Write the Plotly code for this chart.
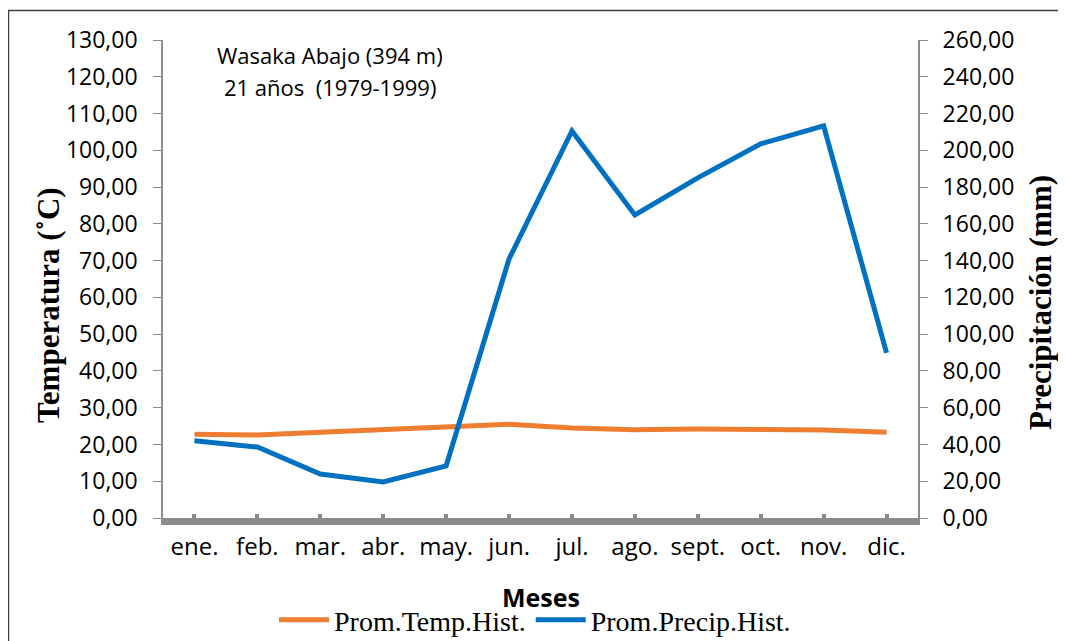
import plotly.graph_objects as go

months = ["ene.", "feb.", "mar.", "abr.", "may.", "jun.", "jul.", "ago.", "sept.", "oct.", "nov.", "dic."]
temp = [22.8, 22.6, 23.3, 24.0, 24.7, 25.5, 24.5, 24.0, 24.2, 24.2, 23.9, 23.3]
precip = [42.0, 38.6, 23.9, 19.6, 28.3, 140.9, 210.5, 164.8, 185.0, 203.5, 213.3, 89.8]

GRAY = "#8c8c8c"
OFF = 8  # page body margin

W, H = 1066, 641
L, T = 163 - OFF, 40 - OFF
RIGHT, BOTTOM = 918 - OFF, 518 - OFF
R, B = W - RIGHT, H - BOTTOM
pw, ph = RIGHT - L, BOTTOM - T


def px_x(x):
    return (x - OFF - L) / pw


def px_y(y):
    return (BOTTOM - (y - OFF)) / ph


fig = go.Figure()
fig.add_trace(go.Scatter(x=months, y=temp, name="Prom.Temp.Hist.", mode="lines",
                         line=dict(color="#ED7D31", width=5), yaxis="y"))
fig.add_trace(go.Scatter(x=months, y=precip, name="Prom.Precip.Hist.", mode="lines",
                         line=dict(color="#0070C0", width=5), yaxis="y2"))

fig.update_layout(
    width=W, height=H,
    margin=dict(l=L, r=R, t=T, b=B, pad=0, autoexpand=False),
    paper_bgcolor="white", plot_bgcolor="white",
    separators=",.",
    showlegend=True,
    font=dict(family="Open Sans", size=22, color="black"),
    xaxis=dict(
        type="category", range=[-0.5, 11.5], showgrid=False,
        showline=True, linecolor=GRAY, linewidth=7,
        ticks="inside", ticklen=4, tickwidth=4, tickcolor=GRAY,
        tickfont=dict(family="Open Sans", size=24),
        ticklabelstandoff=1,
    ),
    yaxis=dict(
        range=[0, 130], dtick=10, tickformat=".2f", showgrid=False,
        showline=True, linecolor=GRAY, linewidth=1.5,
        ticks="outside", ticklen=8, tickcolor=GRAY, tickwidth=1,
        tickfont=dict(family="Open Sans", size=23),
        ticklabelstandoff=11, zeroline=False,
    ),
    yaxis2=dict(
        range=[0, 260], dtick=20, tickformat=".2f", showgrid=False,
        overlaying="y", side="right",
        showline=True, linecolor=GRAY, linewidth=2,
        ticks="outside", ticklen=8, tickcolor=GRAY, tickwidth=1,
        tickfont=dict(family="Open Sans", size=23),
        ticklabelstandoff=10, zeroline=False,
    ),
    legend=dict(
        orientation="h", x=px_x(535), xanchor="center", y=px_y(620), yanchor="middle",
        font=dict(family="Liberation Serif", size=28), itemwidth=50,
        bgcolor="rgba(0,0,0,0)", tracegroupgap=0,
    ),
    annotations=[
        dict(text="Wasaka Abajo (394 m)", x=px_x(330), y=px_y(55), xref="paper", yref="paper",
             showarrow=False, font=dict(family="Open Sans", size=22), xanchor="center", yanchor="middle"),
        dict(text="21 años  (1979-1999)", x=px_x(330), y=px_y(87), xref="paper", yref="paper",
             showarrow=False, font=dict(family="Open Sans", size=22), xanchor="center", yanchor="middle"),
        dict(text="<b>Meses</b>", x=px_x(541), y=px_y(597), xref="paper", yref="paper",
             showarrow=False, font=dict(family="Open Sans", size=25), xanchor="center", yanchor="middle"),
        dict(text="<b>Temperatura (˚C)</b>", x=px_x(48), y=px_y(305), xref="paper", yref="paper",
             showarrow=False, textangle=-90, font=dict(family="Liberation Serif", size=31),
             xanchor="center", yanchor="middle"),
        dict(text="<b>Precipitación (mm)</b>", x=px_x(1040), y=px_y(303), xref="paper", yref="paper",
             showarrow=False, textangle=-90, font=dict(family="Liberation Serif", size=31),
             xanchor="center", yanchor="middle"),
    ],
    shapes=[
        dict(type="rect", xref="paper", yref="paper",
             x0=px_x(8.5), x1=px_x(1090), y0=px_y(670), y1=px_y(10.5),
             line=dict(color="#404040", width=1.5), fillcolor="rgba(0,0,0,0)", layer="below"),
    ],
)

fig.write_html("out.html")
